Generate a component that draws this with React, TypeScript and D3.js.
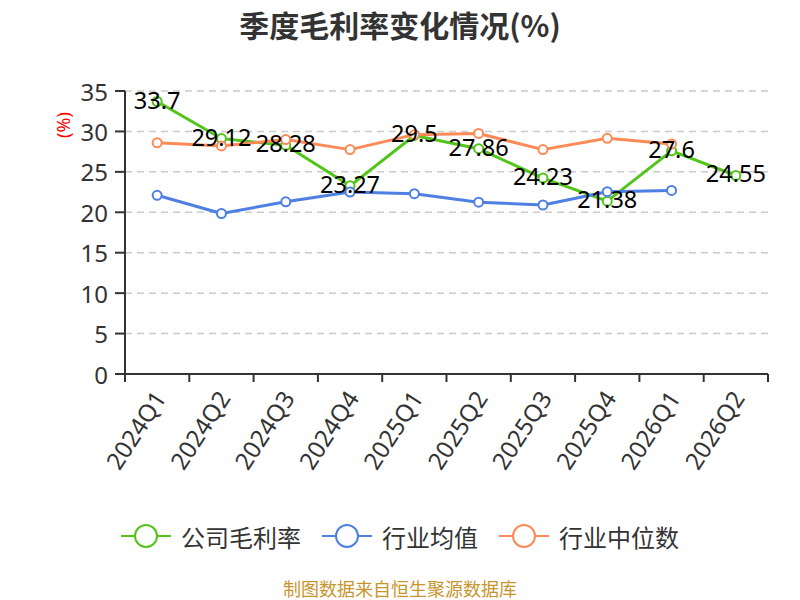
import React from "react";
import * as d3 from "d3";

const categories = ["2024Q1", "2024Q2", "2024Q3", "2024Q4", "2025Q1", "2025Q2", "2025Q3", "2025Q4", "2026Q1", "2026Q2"];
const companyMargin: (number | null)[] = [33.7, 29.12, 28.28, 23.27, 29.5, 27.86, 24.23, 21.38, 27.6, 24.55];
const industryMean: (number | null)[] = [22.1, 19.85, 21.3, 22.5, 22.3, 21.25, 20.9, 22.55, 22.7, null];
const industryMedian: (number | null)[] = [28.6, 28.2, 29.0, 27.75, 29.6, 29.75, 27.75, 29.15, 28.45, null];
const yTicks = [0, 5, 10, 15, 20, 25, 30, 35];
const seriesNames = ["公司毛利率", "行业均值", "行业中位数"];
const seriesColors = ["#52c41a", "#4e7fe3", "#fd8a57"];

const FONT = "'Noto Sans', 'Noto Sans CJK SC', sans-serif";
const CJK = "'Noto Sans CJK SC', 'Noto Sans', sans-serif";

export default function App() {
  const W = 800, H = 600;
  const left = 125, right = 768, top = 91, bottom = 374;
  const x = d3.scaleBand<string>().domain(categories).range([left, right]);
  const y = d3.scaleLinear().domain([0, 35]).range([bottom, top]);
  const cx = (c: string) => (x(c) as number) + x.bandwidth() / 2;

  const line = d3
    .line<number | null>()
    .defined((d) => d !== null)
    .x((_, i) => cx(categories[i]))
    .y((d) => y(d as number));

  const series = [companyMargin, industryMean, industryMedian];

  // legend layout
  const legendY = 536;
  const fs = 24;
  const itemWidths = seriesNames.map((n) => 60 + n.length * fs);
  const gap = 21;
  const total = itemWidths.reduce((a, b) => a + b, 0) + gap * (seriesNames.length - 1);
  let lx = W / 2 - total / 2;
  const legendItems = seriesNames.map((n, i) => {
    const item = { name: n, color: seriesColors[i], x: lx };
    lx += itemWidths[i] + gap;
    return item;
  });

  const boundaries = [...categories.map((c) => x(c) as number), right];

  return (
    <svg width={W} height={H} style={{ display: "block", position: "absolute", left: 0, top: 0 }}>
      <rect width={W} height={H} fill="#fff" />
      <text x={W / 2} y={24} textAnchor="middle" dominantBaseline="central" fontFamily={CJK} fontWeight="bold" fontSize={30} fill="#333">
        季度毛利率变化情况(%)
      </text>

      {/* grid */}
      {yTicks.filter((t) => t > 0).map((t) => (
        <line key={t} x1={left} x2={right} y1={y(t)} y2={y(t)} stroke="#ccc" strokeWidth={1.5} strokeDasharray="7,5" />
      ))}

      {/* y axis */}
      <line x1={left} x2={left} y1={top} y2={bottom} stroke="#333" strokeWidth={2} />
      {yTicks.map((t) => (
        <g key={t}>
          <line x1={left - 10} x2={left} y1={y(t)} y2={y(t)} stroke="#333" strokeWidth={2} />
          <text x={left - 17} y={y(t)} textAnchor="end" dominantBaseline="central" fontFamily={FONT} fontSize={24} fill="#333">
            {t}
          </text>
        </g>
      ))}
      <text transform={`translate(63,125) rotate(-90)`} textAnchor="middle" dominantBaseline="central" fontFamily={FONT} fontSize={18} fill="#ff0000">
        (%)
      </text>

      {/* x axis */}
      <line x1={left} x2={right} y1={bottom} y2={bottom} stroke="#333" strokeWidth={2} />
      {boundaries.map((b, i) => (
        <line key={i} x1={b} x2={b} y1={bottom} y2={bottom + 8} stroke="#333" strokeWidth={2} />
      ))}
      {categories.map((c) => (
        <text key={c} transform={`translate(${cx(c) + 2},${bottom + 19}) rotate(-57)`} textAnchor="end" dominantBaseline="central" fontFamily={FONT} fontSize={24} fill="#333">
          {c}
        </text>
      ))}

      {/* lines */}
      {series.map((s, si) => (
        <path key={si} d={line(s) || ""} fill="none" stroke={seriesColors[si]} strokeWidth={3} strokeLinejoin="round" />
      ))}
      {series.map((s, si) =>
        s.map((v, i) =>
          v === null ? null : (
            <circle key={`${si}-${i}`} cx={cx(categories[i])} cy={y(v)} r={4.5} fill="#fff" stroke={seriesColors[si]} strokeWidth={2} />
          )
        )
      )}

      {/* data labels */}
      {companyMargin.map((v, i) =>
        v === null ? null : (
          <text key={i} x={cx(categories[i])} y={y(v) - 2} textAnchor="middle" dominantBaseline="central" fontFamily={FONT} fontSize={23.5} fill="#000">
            {v}
          </text>
        )
      )}

      {/* legend */}
      {legendItems.map((it) => (
        <g key={it.name}>
          <line x1={it.x} x2={it.x + 50} y1={legendY} y2={legendY} stroke={it.color} strokeWidth={2} />
          <circle cx={it.x + 25} cy={legendY} r={11} fill="#fff" stroke={it.color} strokeWidth={2} />
          <text x={it.x + 60} y={legendY} dominantBaseline="central" fontFamily={CJK} fontSize={fs} fill="#333">
            {it.name}
          </text>
        </g>
      ))}

      <text x={W / 2} y={588} textAnchor="middle" dominantBaseline="central" fontFamily={CJK} fontSize={18} fill="#c8952c">
        制图数据来自恒生聚源数据库
      </text>
    </svg>
  );
}
